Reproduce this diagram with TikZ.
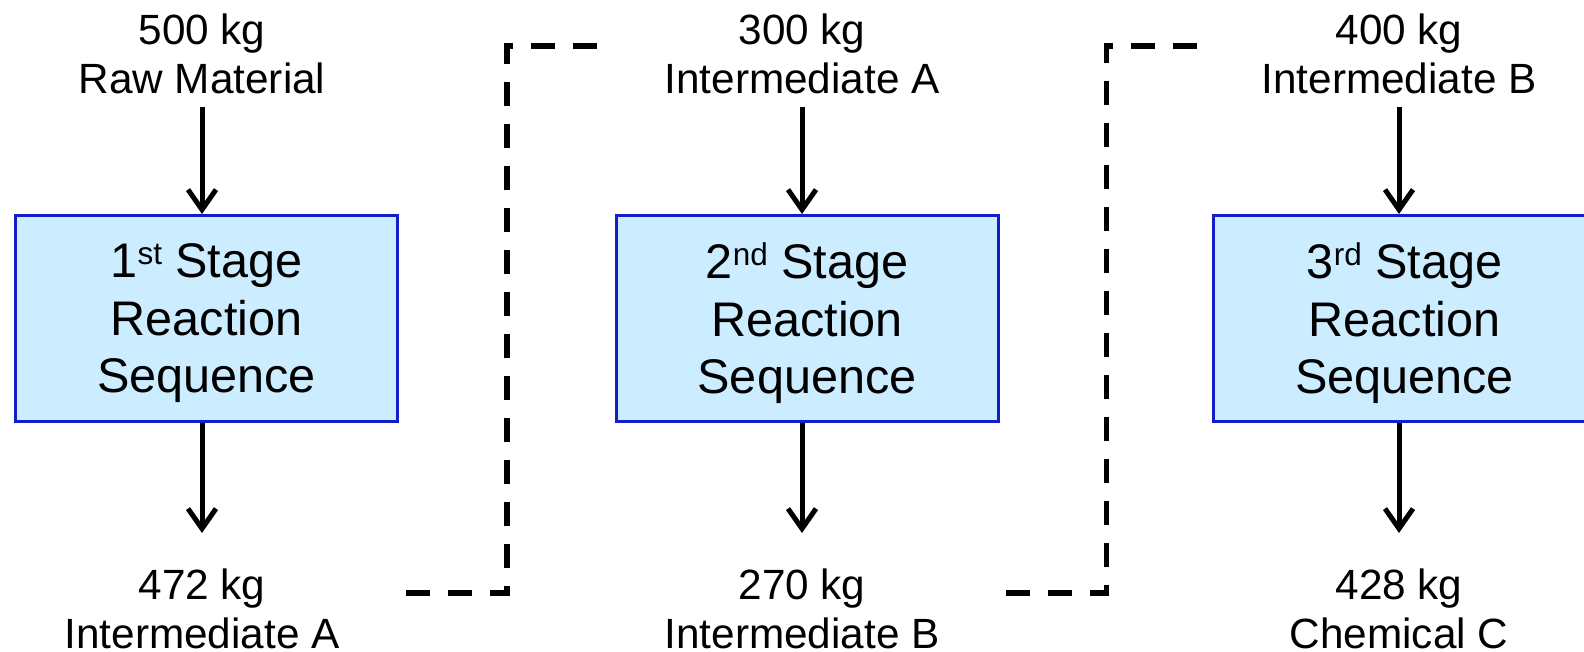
\documentclass[tikz,border=0pt]{standalone}
\usepackage{fontspec}
\setmainfont{Liberation Sans}
\usetikzlibrary{arrows.meta}
\definecolor{stagefill}{RGB}{204,236,255}
\definecolor{stageline}{RGB}{20,30,200}
\newcommand{\ordsup}[1]{\raisebox{13pt}{\fontsize{31.5}{31.5}\selectfont #1}}
\begin{document}
\begin{tikzpicture}[x=1pt, y=1pt,
        stage/.style={draw=stageline, fill=stagefill, line width=3pt, minimum width=382pt, minimum height=206pt, align=center, inner sep=0pt, text depth=0pt, font=\fontsize{48.6}{57.5}\selectfont},
        amount/.style={align=center, inner xsep=0pt, font=\fontsize{42.3}{48.5}\selectfont},
        flow/.style={-{Straight Barb[length=20pt, width=28pt]}, line width=5pt},
        link/.style={line width=5.5pt, dash pattern=on 24pt off 18pt}]
    \useasboundingbox (0, 0) rectangle (1584, 652);

    % reaction stages
    \node[stage] (s1) at (206.5, 333.5) {1\ordsup{st} Stage\\Reaction\\Sequence};
    \node[stage] (s2) at (807, 333.5) {2\ordsup{nd} Stage\\Reaction\\Sequence};
    \node[stage] (s3) at (1404.5, 333.5) {3\ordsup{rd} Stage\\Reaction\\Sequence};

    % inputs
    \node[amount, anchor=north, inner ysep=13pt] (in1) at (202, 651) {500 kg\\Raw Material};
    \node[amount, anchor=north, inner ysep=13pt] (in2) at (802, 651) {300 kg\\Intermediate A};
    \node[amount, anchor=north, inner ysep=13pt] (in3) at (1399, 651) {400 kg\\Intermediate B};

    % outputs
    \node[amount, anchor=north, inner ysep=0pt] (out1) at (202, 83) {472 kg\\Intermediate A};
    \node[amount, anchor=north, inner ysep=0pt] (out2) at (802, 83) {270 kg\\Intermediate B};
    \node[amount, anchor=north, inner ysep=0pt] (out3) at (1399, 83) {428 kg\\Chemical C};

    \draw[flow] (in1.south) -- (in1.south |- s1.north);
    \draw[flow] (in2.south) -- (in2.south |- s2.north);
    \draw[flow] (in3.south) -- (in3.south |- s3.north);

    \draw[flow, shorten >=36pt] (out1.north |- s1.south) -- (out1.north);
    \draw[flow, shorten >=36pt] (out2.north |- s2.south) -- (out2.north);
    \draw[flow, shorten >=36pt] (out3.north |- s3.south) -- (out3.north);

    % carry-over between stages
    \coordinate (a1) at (406, 59);
    \coordinate (k1) at (507, 606);
    \coordinate (b1) at (607, 606);
    \coordinate (a2) at (1006, 59);
    \coordinate (k2) at (1106.5, 606);
    \coordinate (b2) at (1207, 606);
    \draw[link] (a1) -| (k1) -- (b1);
    \draw[link] (a2) -| (k2) -- (b2);
\end{tikzpicture}
\end{document}
